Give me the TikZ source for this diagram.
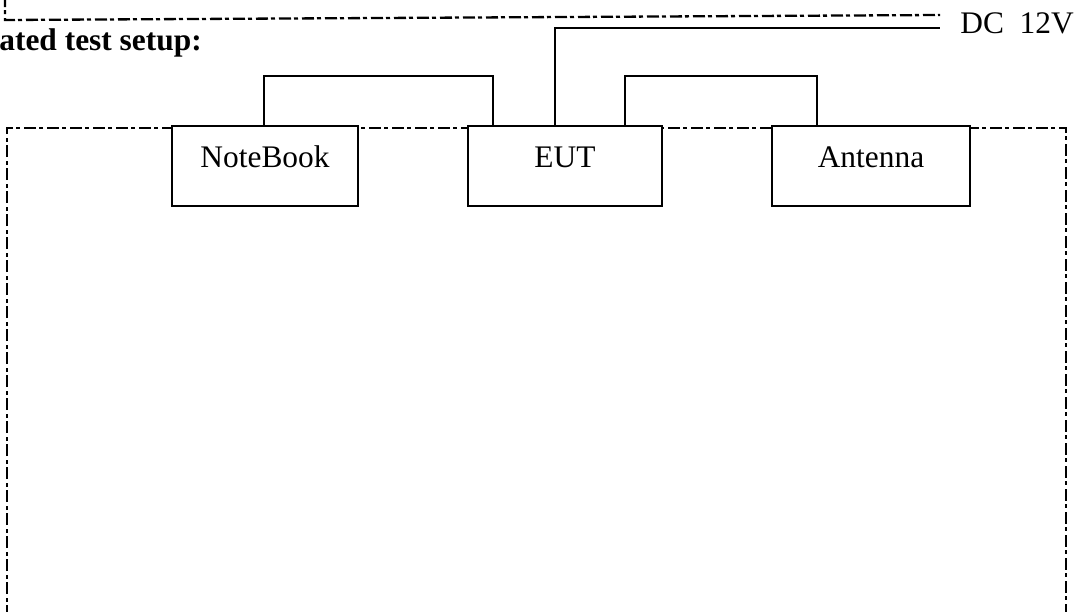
\documentclass[tikz,border=0pt]{standalone}
\usepackage{fontspec}
\setmainfont{Liberation Serif}
\usepackage{tikz}
\usetikzlibrary{calc}

\tikzset{
  unitbox/.style={draw, line width=1pt, fill=white, rectangle,
    inner xsep=0pt, inner ysep=0pt, minimum height=40pt,
    text height=20.5pt, text depth=19.5pt,
    font=\fontsize{15.7}{18}\selectfont},
  cable/.style={line width=0.95pt},
  boundary/.style={line width=1.15pt, dash pattern=on 6pt off 1.5pt on 2pt off 2pt},
}

\begin{document}
\begin{tikzpicture}[x=0.5pt, y=-0.5pt]
  % 画像と同じ枠 (単位は px 相当)
  \useasboundingbox (0,0) rectangle (1081,611);
  \clip (0,0) rectangle (1081,611);

  % 点鎖線の枠
  \draw[boundary] (5,-5) -- (5,20) -- (940,15);
  \draw[boundary] (7,640) -- (7,128) -- (1066,128) -- (1066,640);

  % 見出しと電源
  \node[anchor=base west, inner sep=0pt, font=\fontsize{15.7}{18}\selectfont\bfseries]
    (title) at (-1,50) {ated test setup:};
  \node[anchor=base west, inner sep=0pt, font=\fontsize{15.7}{18}\selectfont]
    (dc) at (960,33) {DC~~12V};
  \coordinate (dcend) at (940,28);

  % 機器
  \node[unitbox, minimum width=93pt] (nb)  at (265,166) {NoteBook};
  \node[unitbox, minimum width=97pt] (eut) at (565,166) {EUT};
  \node[unitbox, minimum width=99pt] (ant) at (871,166) {Antenna};

  % ケーブル
  \draw[cable] ($(nb.north)+(-1,0)$) -- ++(0,-49) -| ($(eut.north west)+(26,0)$);
  \draw[cable] ($(eut.north west)+(88,0)$) |- (dcend);
  \draw[cable] ($(eut.north west)+(158,0)$) -- ++(0,-49) -| ($(ant.north west)+(46,0)$);
\end{tikzpicture}
\end{document}
